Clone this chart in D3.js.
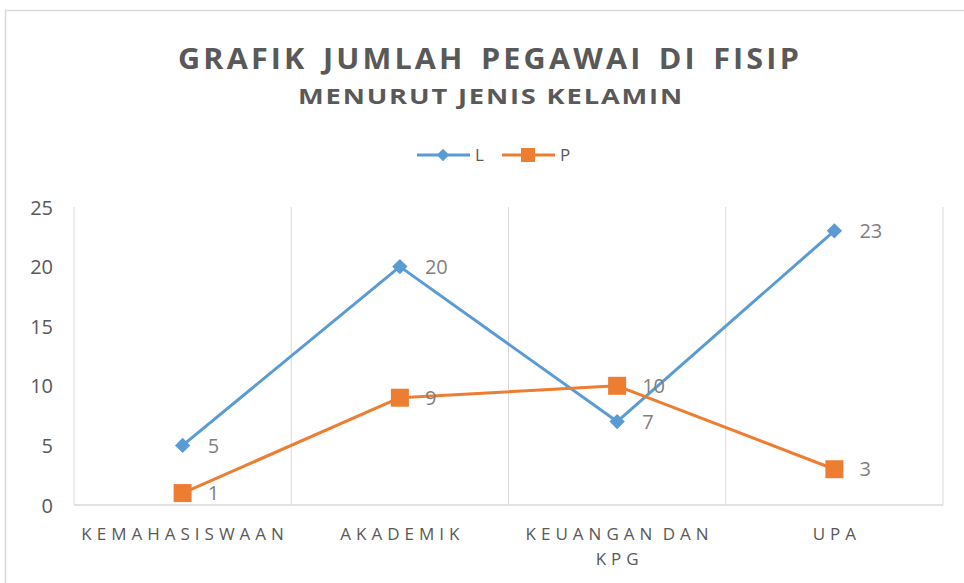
<!DOCTYPE html>
<html><head><meta charset="utf-8">
<script src="https://cdn.jsdelivr.net/npm/d3@7/dist/d3.min.js"></script>
<style>body{margin:0;background:#fff}svg{display:block}</style>
</head><body>
<script>
const categories = ["KEMAHASISWAAN", "AKADEMIK", "KEUANGAN DAN KPG", "UPA"];
const categoryLines = [["KEMAHASISWAAN"], ["AKADEMIK"], ["KEUANGAN DAN", "KPG"], ["UPA"]];
const seriesL = [5, 20, 7, 23];
const seriesP = [1, 9, 10, 3];
const seriesNames = ["L", "P"];
const yTicks = [0, 5, 10, 15, 20, 25];

(function () {
const W = 964, H = 583;
const svg = d3.select("body").append("svg").attr("width", W).attr("height", H);
const font = "'Open Sans', 'Noto Sans', sans-serif";
const gray = "#595959";
const lblGray = "#7f7f7f";
const blue = "#5B9BD5", orange = "#ED7D31";

// chart border
svg.append("rect").attr("x", 5.5).attr("y", 10.5).attr("width", W).attr("height", H)
  .attr("fill", "none").attr("stroke", "#d9d9d9").attr("stroke-width", 1.5);

const pL = 74, pR = 943, pT = 207, pB = 505;
const x = d3.scaleBand().domain(categories).range([pL, pR]);
const y = d3.scaleLinear().domain([0, 25]).range([pB, pT]);

// title
svg.append("text").attr("x", 490).attr("y", 69).attr("text-anchor", "middle")
  .attr("font-family", font).attr("font-weight", "bold").attr("font-size", 29)
  .attr("letter-spacing", "3px").attr("word-spacing", "4px")
  .attr("fill", gray).attr("textLength", 624).attr("lengthAdjust", "spacingAndGlyphs")
  .text("GRAFIK JUMLAH PEGAWAI DI FISIP");
svg.append("text").attr("x", 491).attr("y", 104).attr("text-anchor", "middle")
  .attr("font-family", font).attr("font-weight", "bold").attr("font-size", 22)
  .attr("letter-spacing", "1.5px")
  .attr("fill", gray).attr("textLength", 386).attr("lengthAdjust", "spacingAndGlyphs")
  .text("MENURUT JENIS KELAMIN");

// gridlines (vertical, at category boundaries)
const bounds = categories.map(c => x(c)).concat([x(categories[categories.length - 1]) + x.bandwidth()]);
svg.append("g").selectAll("line").data(bounds.slice(1)).join("line")
  .attr("x1", d => d).attr("x2", d => d).attr("y1", pT).attr("y2", pB)
  .attr("stroke", "#d9d9d9").attr("stroke-width", 1);
svg.append("line").attr("x1", pL).attr("x2", pL).attr("y1", pT).attr("y2", pB)
  .attr("stroke", "#d9d9d9").attr("stroke-width", 1);
// baseline
svg.append("line").attr("x1", pL).attr("x2", pR).attr("y1", pB).attr("y2", pB)
  .attr("stroke", "#d9d9d9").attr("stroke-width", 1.5);

// y axis
const yAxis = d3.axisLeft(y).tickValues(yTicks).tickSize(0).tickPadding(0);
const gy = svg.append("g").attr("transform", `translate(${53},0)`).call(yAxis);
gy.select(".domain").remove();
gy.selectAll("text").attr("font-family", font).attr("font-size", 20).attr("fill", gray).attr("dy", "0.35em");

// x axis labels
const ls = 5;
const gx = svg.append("g");
categories.forEach((c, i) => {
  const t = gx.append("text").attr("x", x(c) + x.bandwidth() / 2).attr("y", 540)
    .attr("text-anchor", "middle").attr("font-family", font).attr("font-size", 17)
    .attr("letter-spacing", ls + "px").attr("word-spacing", "-4px").attr("fill", gray);
  categoryLines[i].forEach((ln, j) => {
    t.append("tspan").attr("x", x(c) + x.bandwidth() / 2 + ls / 2).attr("dy", j === 0 ? 0 : 25).text(ln);
  });
});

const cx = c => x(c) + x.bandwidth() / 2;
const line = d3.line().x((d, i) => cx(categories[i])).y(d => y(d));

function drawSeries(vals, color, shape) {
  svg.append("path").datum(vals).attr("d", line).attr("fill", "none")
    .attr("stroke", color).attr("stroke-width", 3).attr("stroke-linejoin", "round");
  const g = svg.append("g");
  vals.forEach((v, i) => {
    const px = cx(categories[i]), py = y(v);
    if (shape === "diamond") {
      g.append("path").attr("d", d3.symbol(d3.symbolDiamond2, 150)()).attr("transform", `translate(${px},${py})`)
        .attr("fill", color);
    } else {
      g.append("rect").attr("x", px - 9).attr("y", py - 9).attr("width", 18).attr("height", 18).attr("fill", color);
    }
    g.append("text").attr("x", px + 25).attr("y", py).attr("dy", "0.36em")
      .attr("font-family", font).attr("font-size", 20).attr("fill", lblGray).text(v);
  });
}
drawSeries(seriesL, blue, "diamond");
drawSeries(seriesP, orange, "square");

// legend
const leg = svg.append("g");
[[seriesNames[0], blue, "diamond", 417], [seriesNames[1], orange, "square", 502]].forEach(([n, col, sh, lx]) => {
  leg.append("line").attr("x1", lx).attr("x2", lx + 53).attr("y1", 155).attr("y2", 155)
    .attr("stroke", col).attr("stroke-width", 3);
  if (sh === "diamond") {
    leg.append("path").attr("d", d3.symbol(d3.symbolDiamond2, 100)()).attr("transform", `translate(${lx + 26},155)`).attr("fill", col);
  } else {
    leg.append("rect").attr("x", lx + 26 - 7).attr("y", 148).attr("width", 14).attr("height", 14).attr("fill", col);
  }
  leg.append("text").attr("x", lx + 58).attr("y", 155).attr("dy", "0.35em")
    .attr("font-family", font).attr("font-size", 17).attr("fill", gray).text(n);
});
})();
</script>
</body></html>
